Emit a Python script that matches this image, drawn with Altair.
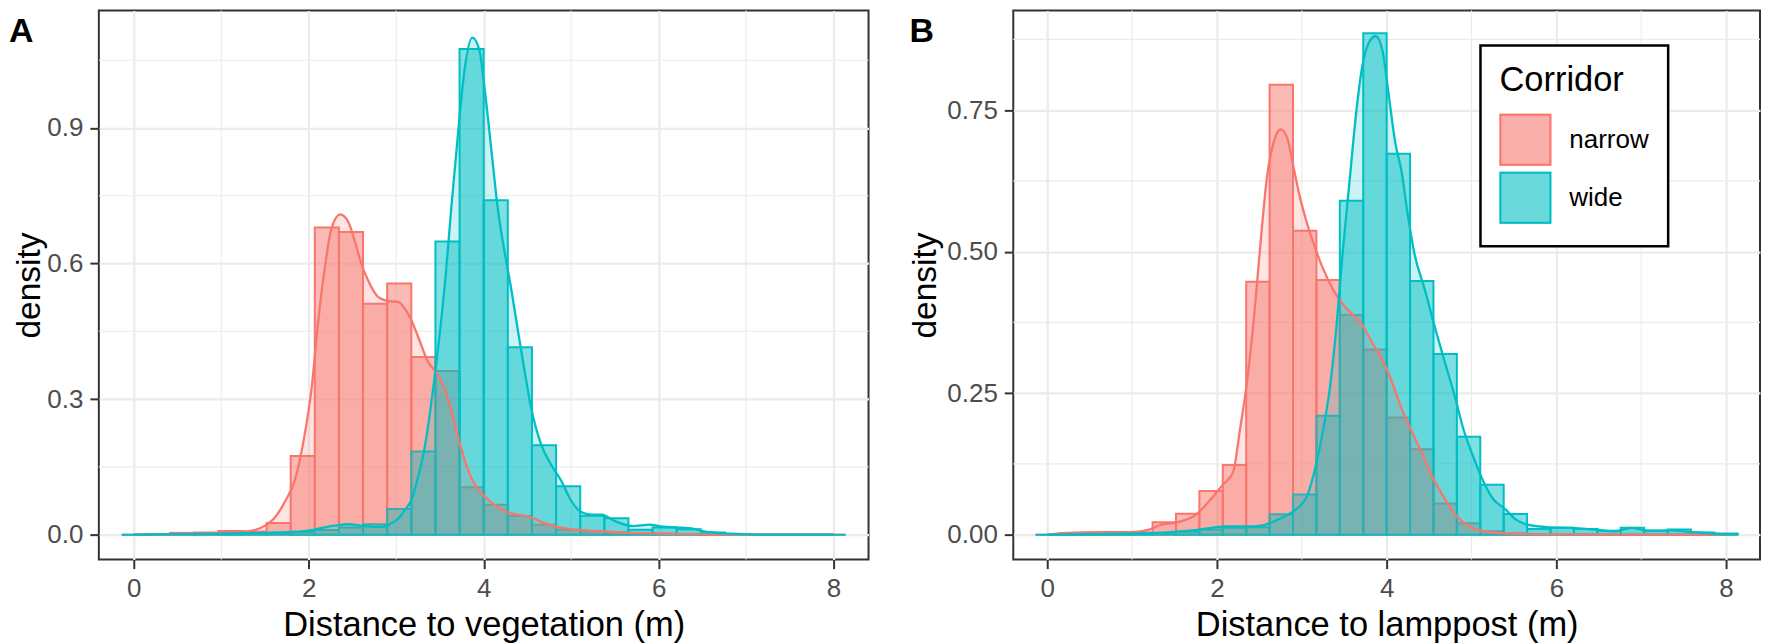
import altair as alt
import pandas as pd

FONT = "Liberation Sans"
corridors = ["narrow", "wide"]
colors = ["#F8766D", "#00BFC4"]
n_bins = 30
x_max = 8.0

# histogram densities, one value per bin (bin centres k * 8/29)
a_narrow_hist = [0.0, 0.001, 0.004, 0.005, 0.008, 0.007, 0.026, 0.174, 0.680, 0.670,
                 0.511, 0.556, 0.393, 0.362, 0.105, 0.066, 0.041, 0.022, 0.011, 0.007,
                 0.005, 0.003, 0.002, 0.001, 0.001, 0.0, 0.0, 0.0, 0.0, 0.0]
a_wide_hist = [0.0, 0.001, 0.001, 0.001, 0.002, 0.002, 0.004, 0.006, 0.010, 0.016,
               0.023, 0.057, 0.184, 0.649, 1.075, 0.740, 0.415, 0.198, 0.107, 0.042,
               0.036, 0.011, 0.016, 0.012, 0.005, 0.001, 0.0, 0.0, 0.0, 0.0]
b_narrow_hist = [0.0, 0.002, 0.0035, 0.004, 0.004, 0.022, 0.037, 0.077, 0.123, 0.447,
                 0.795, 0.537, 0.450, 0.388, 0.327, 0.207, 0.151, 0.055, 0.020, 0.006,
                 0.002, 0.001, 0.0, 0.0, 0.0, 0.0, 0.0, 0.0, 0.0, 0.0]
b_wide_hist = [0.0, 0.001, 0.001, 0.001, 0.001, 0.002, 0.005, 0.009, 0.012, 0.013,
               0.036, 0.071, 0.210, 0.590, 0.886, 0.673, 0.448, 0.319, 0.173, 0.088,
               0.0365, 0.010, 0.012, 0.010, 0.007, 0.012, 0.007, 0.009, 0.004, 0.002]

# kernel density curves
a_narrow_dx = [0, 0.5, 1.0, 1.3, 1.5, 1.6, 1.73, 1.84, 1.96, 2.03, 2.11, 2.19, 2.26, 2.36, 2.45,
               2.53, 2.60, 2.68, 2.79, 2.91, 3.02, 3.10, 3.17, 3.25, 3.36, 3.48, 3.56, 3.63,
               3.71, 3.78, 3.86, 3.94, 4.01, 4.13, 4.27, 4.40, 4.55, 4.70, 4.85, 5.0, 5.3,
               5.55, 6.2, 6.8, 8.0]
a_narrow_dy = [0, 0.001, 0.004, 0.007, 0.02, 0.035, 0.074, 0.12, 0.229, 0.32, 0.476, 0.60,
               0.678, 0.709, 0.693, 0.647, 0.60, 0.562, 0.527, 0.517, 0.515, 0.50, 0.476,
               0.438, 0.384, 0.353, 0.32, 0.275, 0.213, 0.167, 0.125, 0.10, 0.085, 0.065,
               0.050, 0.044, 0.038, 0.025, 0.017, 0.012, 0.008, 0.005, 0.0015, 0.0, 0.0]
a_wide_dx = [0, 0.5, 1.0, 1.5, 1.8, 2.0, 2.15, 2.3, 2.46, 2.6, 2.75, 2.87, 2.94, 3.02, 3.10,
             3.17, 3.25, 3.33, 3.40, 3.48, 3.56, 3.63, 3.71, 3.78, 3.87, 3.95, 4.01, 4.09,
             4.16, 4.24, 4.32, 4.39, 4.47, 4.54, 4.66, 4.77, 4.89, 5.0, 5.1, 5.2, 5.35, 5.5,
             5.7, 5.9, 6.0, 6.2, 6.4, 6.55, 6.75, 6.9, 7.2, 8.0]
a_wide_dy = [0, 0.001, 0.002, 0.004, 0.006, 0.009, 0.015, 0.02, 0.023, 0.02, 0.017, 0.018,
             0.025, 0.035, 0.055, 0.075, 0.128, 0.198, 0.29, 0.415, 0.562, 0.724, 0.895,
             1.027, 1.10, 1.073, 0.988, 0.848, 0.724, 0.624, 0.538, 0.453, 0.36, 0.283,
             0.198, 0.155, 0.118, 0.075, 0.052, 0.045, 0.044, 0.03, 0.019, 0.022, 0.019,
             0.016, 0.013, 0.006, 0.003, 0.0015, 0.0, 0.0]
b_narrow_dx = [0, 0.31, 1.04, 1.2, 1.33, 1.56, 1.75, 1.9, 2.08, 2.19, 2.27, 2.36, 2.44, 2.52,
               2.59, 2.67, 2.75, 2.83, 2.90, 2.98, 3.06, 3.14, 3.25, 3.37, 3.48, 3.60, 3.71,
               3.83, 3.95, 4.06, 4.18, 4.29, 4.41, 4.53, 4.68, 4.83, 4.99, 5.14, 5.42, 6.0, 8.0]
b_narrow_dy = [0, 0.0035, 0.005, 0.009, 0.017, 0.023, 0.035, 0.058, 0.09, 0.11, 0.184, 0.277,
               0.389, 0.526, 0.632, 0.694, 0.716, 0.70, 0.651, 0.595, 0.551, 0.514, 0.47,
               0.433, 0.408, 0.389, 0.371, 0.339, 0.308, 0.271, 0.221, 0.184, 0.146, 0.105,
               0.065, 0.032, 0.013, 0.006, 0.002, 0.0005, 0.0]
b_wide_dx = [0, 1.04, 1.5, 1.8, 2.1, 2.37, 2.52, 2.75, 2.9, 3.06, 3.17, 3.25, 3.33, 3.41, 3.48,
             3.56, 3.64, 3.71, 3.79, 3.87, 3.95, 4.02, 4.10, 4.18, 4.25, 4.33, 4.45, 4.56,
             4.68, 4.80, 4.91, 5.03, 5.14, 5.26, 5.39, 5.53, 5.66, 5.91, 6.16, 6.47, 6.69,
             6.88, 7.1, 7.35, 7.55, 7.75, 8.0]
b_wide_dy = [0, 0.002, 0.005, 0.009, 0.0145, 0.0145, 0.016, 0.029, 0.041, 0.068, 0.125, 0.184,
             0.258, 0.37, 0.495, 0.62, 0.744, 0.825, 0.869, 0.881, 0.856, 0.782, 0.694, 0.638,
             0.564, 0.495, 0.433, 0.371, 0.308, 0.246, 0.184, 0.134, 0.094, 0.062, 0.046,
             0.026, 0.0175, 0.013, 0.012, 0.009, 0.006, 0.012, 0.007, 0.0075, 0.005, 0.003, 0.0]

x_major = [0, 2, 4, 6, 8]
x_minor = [1, 3, 5, 7]
a_y_major = [0.0, 0.3, 0.6, 0.9]
a_y_minor = [0.15, 0.45, 0.75, 1.05]
b_y_major = [0.0, 0.25, 0.5, 0.75]
b_y_minor = [0.125, 0.375, 0.625, 0.875]

# outline series names (trailing space keeps the outline legend separate)
outline_names = [c + " " for c in corridors]


def hist_df(narrow, wide):
    bw = x_max / (n_bins - 1)
    rows = []
    for name, oname, vals in (("narrow", outline_names[0], narrow),
                              ("wide", outline_names[1], wide)):
        for k, v in enumerate(vals):
            c = k * bw
            rows.append({"Corridor": name, "CorridorS": oname, "lo": c - bw / 2,
                         "hi": c + bw / 2, "density": v, "base": 0.0})
    return pd.DataFrame(rows)


def dens_df(nx, ny, wx, wy):
    rows = []
    for name, xs, ys in (("narrow", nx, ny), ("wide", wx, wy)):
        for x, y in zip(xs, ys):
            rows.append({"Corridor": name, "x": x, "y": y})
    return pd.DataFrame(rows)


H = 550
LEG_X = 468
LEG_Y = 35
LEG_TITLE = 34.5
LEG_PAD = 19
LEG_TPAD = 15
SYM = 2500


def panel(tag, hist, dens, x_title, y_dom, y_major, y_minor, y_fmt, title_pad,
          tag_x, width, show_legend):
    xs = alt.Scale(domain=[-0.4, 8.4], nice=False, zero=False)
    ys = alt.Scale(domain=y_dom, nice=False, zero=False)
    x_axis = alt.Axis(values=x_major, format="d", title=x_title, titleFontSize=34.5,
                      titlePadding=7)
    y_axis = alt.Axis(values=y_major, format=y_fmt, title="density", titlePadding=title_pad,
                      titleFontSize=33.5)
    cscale = alt.Scale(domain=corridors, range=colors)
    sscale = alt.Scale(domain=outline_names, range=colors)
    if show_legend:
        leg_fill = alt.Legend(orient="none", legendX=LEG_X, legendY=LEG_Y, title="Corridor",
                              symbolType="square", symbolSize=SYM, symbolStrokeWidth=2,
                              symbolStrokeColor="transparent",
                              symbolOpacity=0.58, padding=LEG_PAD, titlePadding=LEG_TPAD,
                              labelOffset=18, rowPadding=0, strokeColor="black",
                              fillColor="white")
        leg_stroke = alt.Legend(orient="none", legendX=LEG_X,
                                legendY=LEG_Y + LEG_TITLE + LEG_TPAD,
                                title=None, symbolType="square", symbolSize=SYM,
                                symbolStrokeWidth=2, symbolFillColor="transparent",
                                padding=LEG_PAD, labelOffset=18, rowPadding=0,
                                labelExpr="''")
    else:
        leg_fill = None
        leg_stroke = None

    gx = alt.Chart(pd.DataFrame({"v": x_minor})).mark_rule(
        color="#EBEBEB", strokeWidth=1.1).encode(
        x=alt.X("v:Q", scale=xs, axis=x_axis))
    gy = alt.Chart(pd.DataFrame({"v": y_minor})).mark_rule(
        color="#EBEBEB", strokeWidth=1.1).encode(
        y=alt.Y("v:Q", scale=ys, axis=y_axis))
    bars = alt.Chart(hist).mark_rect(fillOpacity=0.5, strokeWidth=2).encode(
        x=alt.X("lo:Q", scale=xs, axis=x_axis), x2="hi:Q",
        y=alt.Y("density:Q", scale=ys, axis=y_axis), y2="base:Q",
        fill=alt.Fill("Corridor:N", scale=cscale, legend=leg_fill),
        stroke=alt.Stroke("CorridorS:N", scale=sscale, legend=leg_stroke),
    )
    areas = alt.Chart(dens).mark_area(fillOpacity=0.2, interpolate="monotone").encode(
        x=alt.X("x:Q", scale=xs, axis=x_axis),
        y=alt.Y("y:Q", scale=ys, axis=y_axis, stack=None),
        color=alt.Color("Corridor:N", scale=cscale, legend=None),
    )
    lines = alt.Chart(dens).mark_line(strokeWidth=2.3, interpolate="monotone").encode(
        x=alt.X("x:Q", scale=xs, axis=x_axis),
        y=alt.Y("y:Q", scale=ys, axis=y_axis),
        color=alt.Color("Corridor:N", scale=cscale, legend=None),
    )
    label = alt.Chart(pd.DataFrame({"t": [tag]})).mark_text(
        align="left", baseline="top", fontSize=34, fontWeight="bold", font=FONT,
        color="black").encode(text="t:N", x=alt.value(tag_x), y=alt.value(4.5))
    return alt.layer(gx, gy, bars, areas, lines, label).properties(width=width, height=H)


pA = panel("A", hist_df(a_narrow_hist, a_wide_hist),
           dens_df(a_narrow_dx, a_narrow_dy, a_wide_dx, a_wide_dy),
           "Distance to vegetation (m)", [-0.05525, 1.16], a_y_major, a_y_minor, ".1f",
           0, -90, 771, False)
pB = panel("B", hist_df(b_narrow_hist, b_wide_hist),
           dens_df(b_narrow_dx, b_narrow_dy, b_wide_dx, b_wide_dy),
           "Distance to lamppost (m)", [-0.0441, 0.926], b_y_major, b_y_minor, ".2f",
           4, -104, 748, True)

base = alt.hconcat(pA, pB, spacing=37).resolve_scale(
    x="independent", y="independent", fill="independent", stroke="independent",
    color="independent").properties(padding=0)

base = base.configure_view(stroke="#333333", strokeWidth=2).configure_axis(
    labelFont=FONT, labelFontSize=26, labelColor="#4D4D4D", labelPadding=7,
    tickColor="#333333", tickWidth=2, tickSize=9, domain=False,
    grid=True, gridColor="#EBEBEB", gridWidth=2.2,
    titleFont=FONT, titleFontWeight="normal", titleColor="black",
)

legend_common = dict(titleFont=FONT, titleFontSize=LEG_TITLE, titleFontWeight="normal",
                     titleColor="black", labelFont=FONT, labelFontSize=26,
                     labelColor="black")
try:
    chart = base.configure_legend(strokeWidth=2.5, **legend_common)
    chart.to_dict()
except Exception:
    chart = base.configure_legend(**legend_common)

chart.save("out.html", embed_options={"renderer": "svg", "actions": False})
